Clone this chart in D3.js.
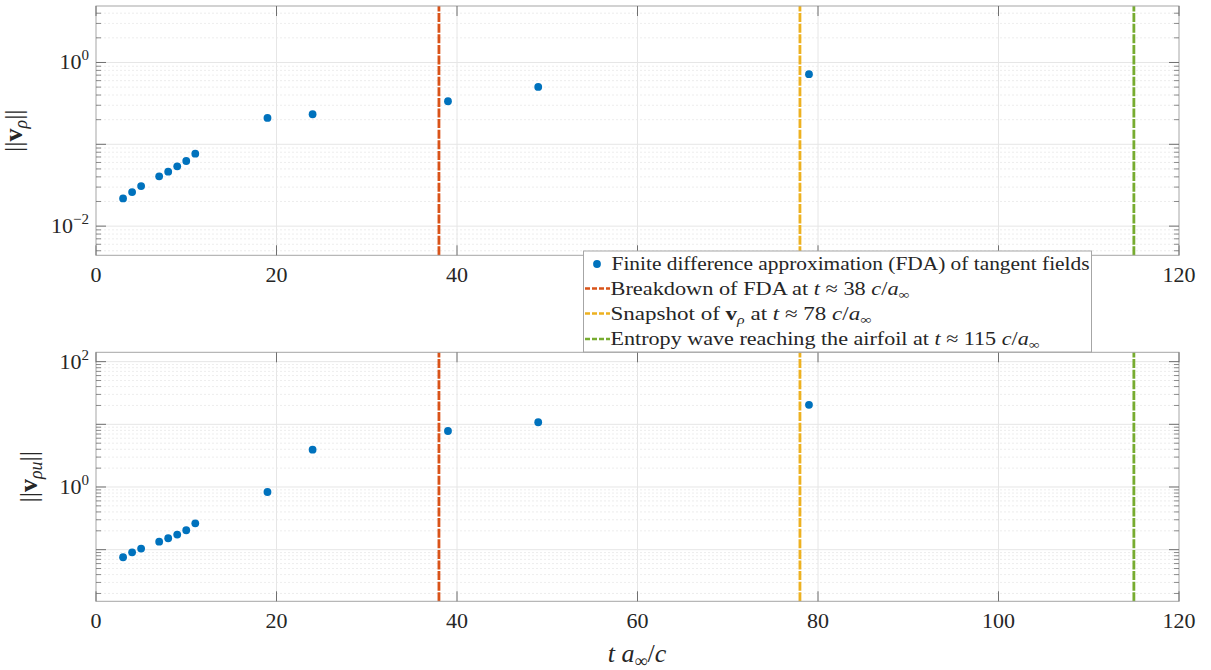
<!DOCTYPE html>
<html><head><meta charset="utf-8">
<script src="https://cdn.jsdelivr.net/npm/d3@7"></script>
<style>
body{margin:0;background:#fff;}
svg{display:block;}
</style></head>
<body>
<script>
// ---- data ----
const tValues = [3,4,5,7,8,9,10,11,19,24,39,49,79];
const vRho    = [0.0218,0.0261,0.0309,0.0406,0.0463,0.0538,0.0625,0.0769,0.210,0.233,0.336,0.503,0.719];
const vRhoU   = [0.0757,0.0908,0.104,0.134,0.152,0.174,0.204,0.263,0.832,3.94,7.82,10.8,20.5];
const eventTimes = [38,78,115];
const eventColors = ["#D95319","#EDB120","#77AC30"];
const xTicks = [0,20,40,60,80,100,120];
const topYLabelTicks = [-2,0];   // exponents
const botYLabelTicks = [0,2];
const topYDomain = [0.0044,4.9];
const botYDomain = [0.0150,141];
const xDomain = [0,120];

const W=1211,H=670;
const FONT="'Liberation Serif','DejaVu Serif',serif";
const svg=d3.select("body").append("svg").attr("width",W).attr("height",H)
  .style("font-family",FONT).attr("fill","#262626");

const x=d3.scaleLinear().domain(xDomain).range([96,1179]);
const legendBox={x:583.5,y:251,w:508,h:101};

const panels=[
  {vals:vRho, dom:topYDomain, range:[255.3,6], labTicks:topYLabelTicks, sub:"ρ", labX:22},
  {vals:vRhoU, dom:botYDomain, range:[601.3,352.3], labTicks:botYLabelTicks, sub:"ρu", labX:37}
];

panels.forEach((p,pi)=>{
  const y=d3.scaleLog().domain(p.dom).range(p.range);
  const g=svg.append("g");
  const [y0,y1]=p.range; const [x0,x1]=x.range();
  const lo=Math.floor(Math.log10(p.dom[0])), hi=Math.ceil(Math.log10(p.dom[1]));
  const majors=[],minors=[];
  for(let e=lo;e<=hi;e++){
    const b=Math.pow(10,e);
    if(b>=p.dom[0]&&b<=p.dom[1]) majors.push(b);
    for(let m=2;m<=9;m++){const v=m*b; if(v>=p.dom[0]&&v<=p.dom[1]) minors.push(v);}
  }
  g.selectAll(".mg").data(minors).join("line")
    .attr("x1",x0).attr("x2",x1).attr("y1",d=>y(d)).attr("y2",d=>y(d))
    .attr("stroke","#e8e8e8").attr("stroke-width",0.8).attr("stroke-dasharray","2,2");
  g.selectAll(".Mg").data(majors).join("line")
    .attr("x1",x0).attr("x2",x1).attr("y1",d=>y(d)).attr("y2",d=>y(d))
    .attr("stroke","#e6e6e6").attr("stroke-width",1);
  g.selectAll(".xg").data(xTicks.slice(1,-1)).join("line")
    .attr("x1",d=>x(d)).attr("x2",d=>x(d)).attr("y1",y0).attr("y2",y1)
    .attr("stroke","#e6e6e6").attr("stroke-width",1);
  g.selectAll(".ev").data(eventTimes).join("line")
    .attr("x1",d=>x(d)).attr("x2",d=>x(d)).attr("y1",y0).attr("y2",y1)
    .attr("stroke",(d,i)=>eventColors[i]).attr("stroke-width",2.8).attr("stroke-dasharray","9,1.6");
  g.selectAll(".pt").data(tValues).join("circle")
    .attr("cx",d=>x(d)).attr("cy",(d,i)=>y(p.vals[i])).attr("r",3.9).attr("fill","#0072BD");
  g.append("rect").attr("x",x0).attr("y",y1).attr("width",x1-x0).attr("height",y0-y1)
    .attr("fill","none").attr("stroke","#a6a6a6").attr("stroke-width",1);
  const tk="#707070";
  majors.forEach(v=>{[[x0,x0+10],[x1,x1-10]].forEach(([a,b])=>g.append("line").attr("x1",a).attr("x2",b).attr("y1",y(v)).attr("y2",y(v)).attr("stroke",tk));});
  minors.forEach(v=>{[[x0,x0+5],[x1,x1-5]].forEach(([a,b])=>g.append("line").attr("x1",a).attr("x2",b).attr("y1",y(v)).attr("y2",y(v)).attr("stroke",tk).attr("stroke-width",0.8));});
  xTicks.forEach(v=>{[[y0,y0-10],[y1,y1+10]].forEach(([a,b])=>g.append("line").attr("x1",x(v)).attr("x2",x(v)).attr("y1",a).attr("y2",b).attr("stroke",tk));});
  const shown=xTicks.filter(d=>pi===1 || x(d)<legendBox.x || x(d)>legendBox.x+legendBox.w);
  g.selectAll(".xl").data(shown).join("text")
    .attr("x",d=>x(d)).attr("y",y0+27).attr("text-anchor","middle").attr("font-size",22).text(d=>d);
  p.labTicks.forEach(e=>{
    const t=g.append("text").attr("x",89).attr("y",y(Math.pow(10,e))+7).attr("text-anchor","end").attr("font-size",22);
    t.append("tspan").text("10");
    t.append("tspan").attr("dy",-9).attr("font-size",15).text(e<0?"−"+(-e):String(e));
  });
  const cy=(y0+y1)/2;
  const yl=g.append("text").attr("transform",`translate(${p.labX},${cy}) rotate(-90)`)
    .attr("text-anchor","middle").attr("font-size",26);
  yl.append("tspan").text("||");
  yl.append("tspan").attr("font-weight","bold").text("v");
  yl.append("tspan").attr("dy",5).attr("font-size",18).attr("font-style","italic").text(p.sub);
  yl.append("tspan").attr("dy",-5).text("||");
});

const xl=svg.append("text").attr("x",637).attr("y",662).attr("text-anchor","middle").attr("font-size",26);
xl.append("tspan").attr("font-style","italic").text("t");
xl.append("tspan").text(" ");
xl.append("tspan").attr("font-style","italic").text("a");
xl.append("tspan").attr("dy",5).attr("font-size",18).text("∞");
xl.append("tspan").attr("dy",-5).text("/");
xl.append("tspan").attr("font-style","italic").text("c");

const lg=svg.append("g");
lg.append("rect").attr("x",legendBox.x).attr("y",legendBox.y).attr("width",legendBox.w).attr("height",legendBox.h)
  .attr("fill","#fff").attr("stroke","#a6a6a6").attr("stroke-width",1);
const rows=[264,288.5,313.5,339];
lg.append("circle").attr("cx",597).attr("cy",rows[0]).attr("r",3.9).attr("fill","#0072BD");
const fs=19;
function addText(xx,yy,parts,len){
  const t=lg.append("text").attr("x",xx).attr("y",yy+6).attr("font-size",fs);
  parts.forEach(pt=>{
    const s=t.append("tspan").text(pt.t);
    if(pt.i) s.attr("font-style","italic");
    if(pt.b) s.attr("font-weight","bold");
    if(pt.dy) s.attr("dy",pt.dy);
    if(pt.fs) s.attr("font-size",pt.fs);
  });
  t.attr("textLength",len).attr("lengthAdjust","spacingAndGlyphs");
}
addText(611.5,rows[0],[{t:"Finite difference approximation (FDA) of tangent fields"}],478);
const eventParts=[
  [{t:"Breakdown of FDA at "},{t:"t",i:1},{t:" ≈ 38 "},{t:"c",i:1},{t:"/"},{t:"a",i:1},{t:"∞",dy:4,fs:13}],
  [{t:"Snapshot of "},{t:"v",b:1},{t:"ρ",i:1,dy:4,fs:13},{t:" at ",dy:-4},{t:"t",i:1},{t:" ≈ 78 "},{t:"c",i:1},{t:"/"},{t:"a",i:1},{t:"∞",dy:4,fs:13}],
  [{t:"Entropy wave reaching the airfoil at "},{t:"t",i:1},{t:" ≈ 115 "},{t:"c",i:1},{t:"/"},{t:"a",i:1},{t:"∞",dy:4,fs:13}]
];
const eventLens=[299,261,429];
eventTimes.forEach((d,i)=>{
  const yy=rows[i+1];
  lg.append("line").attr("x1",585).attr("x2",610).attr("y1",yy).attr("y2",yy)
    .attr("stroke",eventColors[i]).attr("stroke-width",2.5).attr("stroke-dasharray","5,2");
  addText(610.5,yy,eventParts[i],eventLens[i]);
});
</script>
</body></html>
